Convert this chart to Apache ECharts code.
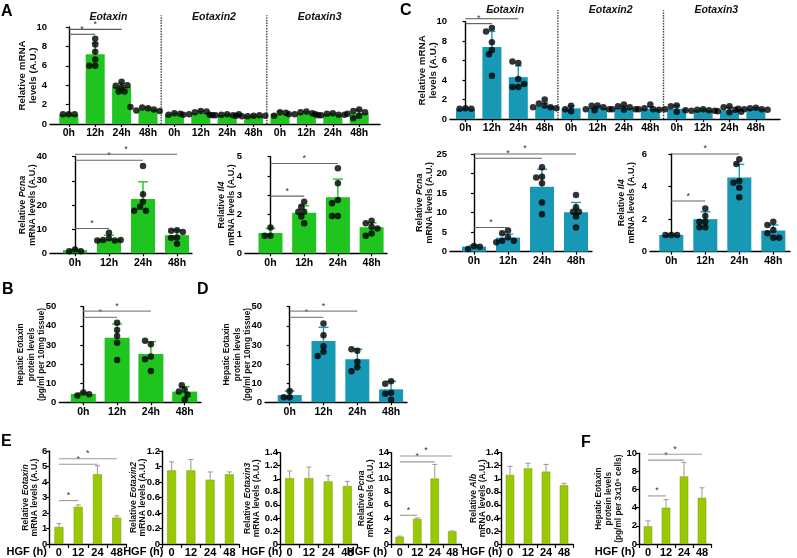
<!DOCTYPE html>
<html><head><meta charset="utf-8">
<script src="https://cdn.jsdelivr.net/npm/echarts@6/dist/echarts.min.js"></script>
<style>html,body{margin:0;padding:0;background:#fff}#c{width:797px;height:558px}</style>
</head><body><div id="c"></div>
<script>
// ================= DATA =================
const timeLabels = ['0h','12h','24h','48h'];
const hgfLabels = ['0','12','24','48'];
const geneGroups = ['Eotaxin','Eotaxin2','Eotaxin3'];

// Panel A (top): Eotaxin / Eotaxin2 / Eotaxin3 x 4 times
const aMrnaMean = [1.0,7.2,3.85,1.5, 1.0,1.1,0.95,0.85, 1.05,1.1,1.0,1.1];
const aMrnaErr  = [1.05,8.35,4.2,1.7, 1.1,1.3,1.0,0.9, 1.27,1.25,1.1,1.45];
const aMrnaDots = [
  [1.0,1.0,1.0],[8.2,8.8,7.45,6.65,6.0,6.0],[4.36,3.95,4.0,3.8,3.35,3.35],[1.62,1.7,1.5,1.4,1.35,1.75],
  [1.1,0.95,1.05],[1.35,1.2,1.3,1.0,0.9,0.95],[1.0,0.95,0.9,0.9,1.0,0.95],[0.85,0.8,0.9,0.8,0.85,0.85],
  [1.2,0.85,1.15],[1.3,1.2,1.1,1.0,0.9,1.0],[1.1,1.05,0.95,0.9,0.95,1.0],[1.5,1.35,1.2,1.05,0.85,0.6]
];
const aMrnaSig = [[0,1,9.25],[0,2,9.76]];

// Panel A (bottom): Pcna, Il4
const aPcnaMean = [1.3,6.0,22.5,7.5];
const aPcnaErr  = [1.6,7.5,29.6,9.6];
const aPcnaDots = [[1.6,0.9,0.9],[8.5,6.2,5.5,5.3,5.3,5.5],[36.2,24.5,21.3,19.3,17.6,17.6],[9.5,9.3,8.8,6.5,6.3,4.0]];
const aPcnaSig  = [[0,1,10.3],[0,2,38.5],[0,3,41]];
const aIl4Mean = [1.05,2.1,2.9,1.35];
const aIl4Err  = [1.29,2.46,3.84,1.58];
const aIl4Dots = [[1.34,0.91,0.91],[2.67,2.15,2.15,2.41,1.9,1.55],[4.4,3.62,2.76,2.59,1.93,1.93],[1.69,1.55,1.38,1.29,1.03,0.91]];
const aIl4Sig  = [[0,1,2.96],[0,2,4.65]];

// Panel B: hepatic eotaxin protein
const bMean = [4.4,33.7,25.2,5.6];
const bErr  = [5.0,40.9,31.7,8.2];
const bDots = [[5.1,3.5,4.2],[41.6,37.8,34.7,31.2,22.1],[30.3,32.2,23.9,22.5,16.4],[6.6,5.7,8.9,4.0,1.3]];
const bSig  = [[0,1,44.4],[0,2,47.7]];

// Panel C (top)
const cMrnaMean = [1.05,7.4,4.3,1.35, 1.1,1.15,1.15,1.05, 1.05,0.9,0.9,1.05];
const cMrnaErr  = [1.1,9.0,5.45,1.65, 1.35,1.3,1.3,1.25, 1.4,1.0,1.2,1.15];
const cMrnaDots = [
  [1.1,1.05,1.05],[9.35,9.0,7.9,7.1,6.65,4.45],[5.75,5.9,4.1,3.3,3.3,3.6],[2.0,1.6,1.4,1.2,1.2,1.1],
  [1.35,0.8,1.0],[1.4,1.35,1.2,1.0,1.0,0.9],[1.5,1.3,1.2,1.0,1.0,0.95],[1.5,1.1,1.0,0.95,1.0,1.0],
  [1.4,1.3,0.75],[1.0,0.95,0.9,0.85,0.85,0.9],[1.3,1.2,0.95,0.8,0.7,0.75],[1.15,1.1,1.0,1.0,0.95,1.05]
];
const cMrnaSig = [[0,1,9.8],[0,2,10.3]];

// Panel C (bottom)
const cPcnaMean = [1.3,3.6,16.6,10.1];
const cPcnaErr  = [1.6,4.5,21.1,12.6];
const cPcnaDots = [[1.46,0.69,1.28],[5.4,4.7,3.7,2.8,2.8,2.4],[21.6,19.2,19.0,17.5,12.6,9.6],[14.5,11.4,10.2,10.2,9.0,6.2]];
const cPcnaSig  = [[0,1,6.2],[0,2,23.9],[0,3,25.0]];
const cIl4Mean = [1.03,2.0,4.56,1.3];
const cIl4Err  = [1.08,2.45,5.36,1.64];
const cIl4Dots = [[1.02,1.02,1.02],[2.66,1.84,2.2,1.84,1.5,1.5],[5.67,5.38,4.34,4.23,3.93,3.34],[1.84,1.64,1.33,1.13,0.86,0.86]];
const cIl4Sig  = [[0,1,3.11],[0,2,6.0]];

// Panel D
const dMean = [3.8,32.0,22.5,6.8];
const dErr  = [5.9,39.2,27.8,11.0];
const dDots = [[5.9,2.6,2.6],[41.2,35.1,29.3,26.4,24.2],[26.9,27.8,21.2,18.3,16.3],[11.0,9.7,5.0,4.5,1.3]];
const dSig  = [[0,1,44.4],[0,2,47.7]];

// Panel E (HGF time course, mean + SD)
const eEotaxinMean  = [1.1,2.4,4.5,1.7];
const eEotaxinErr   = [1.32,2.52,5.05,1.82];
const eEotaxinSig   = [[0,1,2.8],[0,2,5.15],[0,3,5.5]];
const eEotaxin2Mean = [0.95,0.95,0.83,0.9];
const eEotaxin2Err  = [1.06,1.09,0.93,0.93];
const eEotaxin3Mean = [1.01,1.01,0.96,0.89];
const eEotaxin3Err  = [1.12,1.18,1.05,0.96];
const ePcnaMean = [1.1,3.85,10.05,1.95];
const ePcnaErr  = [1.2,4.0,12.2,2.0];
const ePcnaSig  = [[0,1,4.4],[0,2,12.6],[0,3,13.5]];
const eAlbMean = [1.06,1.16,1.11,0.9];
const eAlbErr  = [1.19,1.24,1.22,0.93];

// Panel F
const fMean = [1.95,4.0,7.45,5.1];
const fErr  = [2.55,4.9,9.0,6.2];
const fSig  = [[0,1,5.3],[0,2,9.25],[0,3,9.9]];

// ================= STYLE / LAYOUT =================
const FONT = '"Liberation Sans", Arial, sans-serif';
const GREEN = '#1fc41f', TEAL = '#1798b4', LIME = '#99c805';
const option = {animation:false, backgroundColor:'#fff', grid:[], xAxis:[], yAxis:[], series:[], graphic:[]};
let gi = 0;

function addAxes(grid, xAxis, yAxis){
  grid.containLabel = false;
  option.grid.push(grid);
  xAxis.gridIndex = gi; yAxis.gridIndex = gi;
  option.xAxis.push(xAxis); option.yAxis.push(yAxis);
  return gi++;
}
function yAxisCfg(max, interval, name, nameGap, fs, lh, tfs, tlen, tmar){
  const base = {color:'#111', fontFamily:FONT, fontWeight:'bold', fontSize:fs, lineHeight:lh};
  return {type:'value', min:0, max, interval,
    axisLine:{show:true, lineStyle:{color:'#000', width:1.4}},
    axisTick:{show:true, length:tlen, lineStyle:{color:'#000', width:1.2}},
    axisLabel:{color:'#000', fontFamily:FONT, fontWeight:'bold', fontSize:tfs, margin:tmar},
    splitLine:{show:false},
    name, nameLocation:'middle', nameRotate:90, nameGap, nameMoveOverlap:false,
    nameTextStyle:Object.assign({}, base, {rich:{i:Object.assign({}, base, {fontStyle:'italic'})}})};
}
function errSeries(g, mean, err, color, cap, lw){
  return {type:'custom', xAxisIndex:g, yAxisIndex:g, z:3, silent:true,
    data: err.map((e,i)=>[i, mean[i], e]),
    encode:{x:0, y:[1,2]},
    renderItem:(p,api)=>{
      const x = api.value(0);
      const a = api.coord([x, api.value(1)]), b = api.coord([x, api.value(2)]);
      return {type:'group', children:[
        {type:'line', shape:{x1:a[0],y1:a[1],x2:b[0],y2:b[1]}, style:{stroke:color, lineWidth:lw}},
        {type:'line', shape:{x1:b[0]-cap/2,y1:b[1],x2:b[0]+cap/2,y2:b[1]}, style:{stroke:color, lineWidth:lw}}]};
    }};
}
function sigSeries(g, sig, color){
  return {type:'custom', xAxisIndex:g, yAxisIndex:g, z:5, silent:true, clip:false,
    data: sig.map(s=>s.slice()),
    encode:{x:[0,1], y:2},
    renderItem:(p,api)=>{
      const a = api.coord([api.value(0), api.value(2)]), b = api.coord([api.value(1), api.value(2)]);
      return {type:'group', children:[
        {type:'line', shape:{x1:a[0],y1:a[1],x2:b[0],y2:b[1]}, style:{stroke:color, lineWidth:1.1}},
        {type:'text', x:(a[0]+b[0])/2, y:a[1]-0.5, style:{text:'*', fill:'#333', fontSize:9, fontFamily:FONT, align:'center', verticalAlign:'bottom'}}]};
    }};
}
function swarm(groups, pxX, pxY, dpx){
  const out = [];
  groups.forEach((vals,i)=>{
    const placed = [];
    vals.forEach(v=>{
      const py = v*pxY; let ox = 0;
      for (let k=0;k<40;k++){
        const c = k===0 ? 0 : (k%2 ? -1 : 1)*Math.ceil(k/2)*dpx*0.45;
        if (placed.every(q=>Math.hypot(q[0]-c, q[1]-py) >= dpx*0.8)){ ox = c; break; }
      }
      placed.push([ox, py]);
      out.push([i + ox/pxX, v]);
    });
  });
  return out;
}

function dotPanel(lay, d){
  const min = (lay.left - lay.c0)/lay.sp, max = (lay.right - lay.c0)/lay.sp;
  const idx = d.labels.map((_,i)=>i);
  const g = addAxes({left:lay.left, top:lay.top, width:lay.right-lay.left, height:lay.bottom-lay.top},
    {type:'value', min, max, splitLine:{show:false},
     axisLine:{show:true, onZero:false, lineStyle:{color:'#000', width:1.4}},
     axisTick:{show:true, customValues:idx, length:3, lineStyle:{color:'#000', width:1.2}},
     axisLabel:{customValues:idx, formatter:v=>d.labels[Math.round(v)], color:'#000', fontFamily:FONT, fontWeight:'bold', fontSize:10.5, margin:4}},
    yAxisCfg(d.yMax, d.yInt, d.yName, lay.nameGap, lay.nfs, lay.nlh, 9.5, 3, 3));
  option.series.push({type:'bar', xAxisIndex:g, yAxisIndex:g, z:2, silent:true,
    data:d.mean.map((v,i)=>[i,v]), barWidth:lay.bw, itemStyle:{color:d.color}});
  option.series.push(errSeries(g, d.mean, d.err, d.color, lay.cap, 1.4));
  const pxY = (lay.bottom-lay.top)/d.yMax;
  option.series.push({type:'scatter', xAxisIndex:g, yAxisIndex:g, z:4, silent:true,
    symbol:'circle', symbolSize:6.5, itemStyle:{color:'#000'},
    data:swarm(d.dots, lay.sp, pxY, 6.5)});
  option.series.push(sigSeries(g, d.sig, d.sigColor||'#555'));
  if (d.groups){
    const per = d.labels.length / d.groups.length;
    const seps = d.groups.slice(1).map((_,k)=>[(k+1)*per-0.5]);
    option.series.push({type:'custom', xAxisIndex:g, yAxisIndex:g, z:1, silent:true, clip:false,
      data:seps, encode:{x:0},
      renderItem:(p,api)=>{
        const a = api.coord([api.value(0), 0]), b = api.coord([api.value(0), d.yMax*1.12]);
        return {type:'line', shape:{x1:a[0],y1:a[1],x2:b[0],y2:b[1]}, style:{stroke:'#444', lineWidth:1.4, lineDash:[1.5,1.2]}};
      }});
    option.series.push({type:'custom', xAxisIndex:g, yAxisIndex:g, z:1, silent:true, clip:false,
      data:d.groups.map((name,k)=>[k*per+(per-1)/2]), encode:{x:0},
      renderItem:(p,api)=>{
        const a = api.coord([api.value(0), d.yMax]);
        return {type:'text', x:a[0], y:a[1]-lay.titleDy, style:{text:d.groups[p.dataIndex], fill:'#111', fontFamily:FONT, fontWeight:'bold', fontStyle:'italic', fontSize:10.5, align:'center', verticalAlign:'middle'}};
      }});
  }
}

function ePanel(lay, d){
  const g = addAxes({left:lay.left, top:lay.top, width:lay.width, height:544-lay.top},
    {type:'category', data:hgfLabels, boundaryGap:true,
     axisLine:{show:true, lineStyle:{color:'#000', width:1.4}},
     axisTick:{show:true, length:4, lineStyle:{color:'#000', width:1.2}},
     axisLabel:{color:'#000', fontFamily:FONT, fontWeight:'bold', fontSize:11, margin:3, interval:0}},
    yAxisCfg(d.yMax, d.yInt, d.yName, lay.nameGap, lay.nfs||8.6, lay.nlh||9, 9.5, 3, 2));
  option.series.push({type:'bar', xAxisIndex:g, yAxisIndex:g, z:2, silent:true,
    data:d.mean, barWidth:lay.bw, itemStyle:{color:LIME, borderColor:'#7fa300', borderWidth:0.6}});
  option.series.push(errSeries(g, d.mean, d.err, '#a0a0a0', 5, 1.1));
  if (d.sig) option.series.push(sigSeries(g, d.sig, '#9a9a9a'));
}

const rep = geneGroups.flatMap(()=>timeLabels);

dotPanel({left:50,right:380,top:27,bottom:124,c0:68.8,sp:26.4,bw:19,cap:7,nameGap:11,nfs:9.8,nlh:11,titleDy:10},
  {labels:rep, groups:geneGroups, mean:aMrnaMean, err:aMrnaErr, dots:aMrnaDots, sig:aMrnaSig, color:GREEN,
   yMax:10, yInt:2, yName:'Relative mRNA\nlevels (A.U.)', sigColor:'#555'});
dotPanel({left:50,right:192,top:156.7,bottom:253.3,c0:75,sp:34,bw:24,cap:10,nameGap:12,nfs:9,nlh:10},
  {labels:timeLabels, mean:aPcnaMean, err:aPcnaErr, dots:aPcnaDots, sig:aPcnaSig, color:GREEN,
   yMax:40, yInt:10, yName:'Relative {i|Pcna}\nmRNA levels (A.U.)', sigColor:'#666'});
dotPanel({left:245,right:387,top:156.7,bottom:253.3,c0:270.5,sp:33.7,bw:24,cap:10,nameGap:8,nfs:9,nlh:10},
  {labels:timeLabels, mean:aIl4Mean, err:aIl4Err, dots:aIl4Dots, sig:aIl4Sig, color:GREEN,
   yMax:5, yInt:1, yName:'Relative {i|Il4}\nmRNA levels (A.U.)', sigColor:'#666'});
dotPanel({left:59.3,right:201,top:306.7,bottom:402.3,c0:83.3,sp:33.8,bw:25,cap:10,nameGap:12,nfs:8.3,nlh:10.5},
  {labels:timeLabels, mean:bMean, err:bErr, dots:bDots, sig:bSig, color:GREEN,
   yMax:50, yInt:10, yName:'Hepatic Eotaxin\nprotein levels\n(pg/ml per 10mg tissue)', sigColor:'#888'});
dotPanel({left:265,right:407,top:306.7,bottom:402.3,c0:289.7,sp:33.8,bw:24,cap:10,nameGap:12,nfs:8.3,nlh:10.5},
  {labels:timeLabels, mean:dMean, err:dErr, dots:dDots, sig:dSig, color:TEAL,
   yMax:50, yInt:10, yName:'Hepatic Eotaxin\nprotein levels\n(pg/ml per 10mg tissue)', sigColor:'#888'});
dotPanel({left:450,right:780,top:21.7,bottom:119,c0:465.5,sp:26.4,bw:19,cap:7,nameGap:11,nfs:9.8,nlh:11,titleDy:12},
  {labels:rep, groups:geneGroups, mean:cMrnaMean, err:cMrnaErr, dots:cMrnaDots, sig:cMrnaSig, color:TEAL,
   yMax:10, yInt:2, yName:'Relative mRNA\nlevels (A.U.)', sigColor:'#555'});
dotPanel({left:450,right:592,top:154,bottom:251.7,c0:474,sp:34,bw:24,cap:10,nameGap:15,nfs:9,nlh:10},
  {labels:timeLabels, mean:cPcnaMean, err:cPcnaErr, dots:cPcnaDots, sig:cPcnaSig, color:TEAL,
   yMax:25, yInt:5, yName:'Relative {i|Pcna}\nmRNA levels (A.U.)', sigColor:'#666'});
dotPanel({left:650,right:790,top:154,bottom:251.7,c0:671.3,sp:34,bw:24,cap:10,nameGap:13,nfs:9,nlh:10},
  {labels:timeLabels, mean:cIl4Mean, err:cIl4Err, dots:cIl4Dots, sig:cIl4Sig, color:TEAL,
   yMax:6, yInt:2, yName:'Relative {i|Il4}\nmRNA levels (A.U.)', sigColor:'#666'});

ePanel({left:49.3,width:77,top:451,bw:9,nameGap:10},
  {mean:eEotaxinMean, err:eEotaxinErr, sig:eEotaxinSig, yMax:6, yInt:1, yName:'Relative {i|Eotaxin}\nmRNA levels (A.U.)'});
ePanel({left:162,width:77,top:451,bw:9,nameGap:15},
  {mean:eEotaxin2Mean, err:eEotaxin2Err, yMax:1.2, yInt:0.2, yName:'Relative {i|Eotaxin2}\nmRNA levels (A.U.)'});
ePanel({left:280,width:77,top:452.7,bw:9,nameGap:19},
  {mean:eEotaxin3Mean, err:eEotaxin3Err, yMax:1.4, yInt:0.2, yName:'Relative {i|Eotaxin3}\nmRNA levels (A.U.)'});
ePanel({left:391,width:70,top:452.7,bw:8.5,nameGap:16},
  {mean:ePcnaMean, err:ePcnaErr, sig:ePcnaSig, yMax:14, yInt:2, yName:'Relative {i|Pcna}\nmRNA levels (A.U.)'});
ePanel({left:501,width:72,top:452.7,bw:8.5,nameGap:14},
  {mean:eAlbMean, err:eAlbErr, yMax:1.4, yInt:0.2, yName:'Relative {i|Alb}\nmRNA levels (A.U.)'});
ePanel({left:639,width:72,top:453.3,bw:8.5,nameGap:15,nfs:8.3,nlh:10},
  {mean:fMean, err:fErr, sig:fSig, yMax:10, yInt:2, yName:'Hepatic Eotaxin\nprotein levels\n(pg/ml per 3x10⁵ cells)'});

// panel letters and HGF labels
const letters = [['A',1,12],['B',2,290],['C',400,11],['D',197,290],['E',1,442],['F',581,443]];
letters.forEach(([t,x,y])=>option.graphic.push({type:'text', x, y, style:{text:t, fill:'#000', font:'bold 16px '+FONT, verticalAlign:'middle'}}));
[26.7,143.3,262,367,482,615].forEach(x=>option.graphic.push({type:'text', x, y:552,
  style:{text:'HGF (h)', fill:'#000', font:'bold 11px '+FONT, align:'center', verticalAlign:'middle'}}));

const chart = echarts.init(document.getElementById('c'), null, {renderer:'canvas'});
chart.setOption(option);
</script></body></html>
